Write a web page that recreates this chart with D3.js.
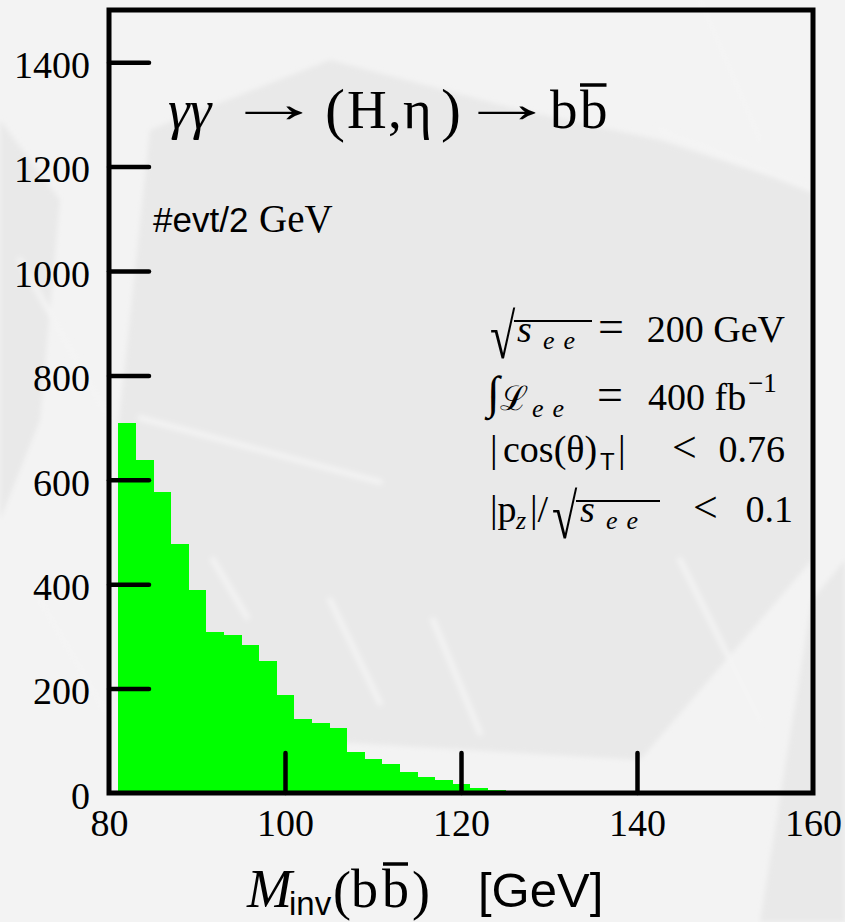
<!DOCTYPE html>
<html>
<head>
<meta charset="utf-8">
<script src="https://cdn.jsdelivr.net/npm/d3@7"></script>
<style>
  html, body { margin: 0; padding: 0; background: #f2f2f2; }
  svg { display: block; }
</style>
</head>
<body>
<script>
// b-bbar invariant mass spectrum, 2 GeV bins (lower bin edges in GeV)
const binLow = [81, 83, 85, 87, 89, 91, 93, 95, 97, 99, 101, 103, 105, 107, 109, 111, 113, 115, 117, 119, 121, 123];
const binWidth = 2;
const counts = [708, 638, 576, 477, 388, 308, 302, 283, 253, 187, 141, 135, 124, 79, 66, 56, 40, 30, 25, 17, 10, 5];

// axis ticks
const xTickLabels = [80, 100, 120, 140, 160];
const xInnerTicks = [100, 120, 140];
const yTickLabels = [0, 200, 400, 600, 800, 1000, 1200, 1400];
const yInnerTicks = [200, 400, 600, 800, 1000, 1200, 1400];

const W = 845, H = 922;
const serif = "'Liberation Serif','Times New Roman','DejaVu Serif',serif";
const sans = "'Liberation Sans',Arial,'DejaVu Sans',sans-serif";

const svg = d3.select("body").append("svg").attr("width", W).attr("height", H);

const x = d3.scaleLinear().domain([80, 160]).range([109, 813]);
const y = d3.scaleLinear().domain([0, 1500]).range([793, 10]);

// ---- faint watermark background ----
const defs = svg.append("defs");
defs.append("filter").attr("id", "soft").append("feGaussianBlur").attr("stdDeviation", 2.5);
const bg = svg.append("g");
bg.append("rect").attr("width", W).attr("height", H).attr("fill", "#f3f3f3");
const wm = bg.append("g").attr("filter", "url(#soft)");
const shade = [
  [[150,130],[330,60],[520,110],[660,140],[812,190],[812,560],[640,760],[300,740],[118,700],[118,430]],
  [[0,120],[60,200],[40,420],[0,520]],
  [[812,600],[845,560],[845,922],[760,922]]
];
wm.selectAll("polygon").data(shade).join("polygon")
  .attr("points", d => d.map(p => p.join(",")).join(" "))
  .attr("fill", "#e9e9e9");
const streaks = [
  [[140,418],[380,482]], [[213,560],[247,617]], [[330,600],[380,703]], [[433,620],[480,733]],
  [[660,130],[812,190]], [[700,0],[760,140]], [[20,260],[110,420]],
  [[40,600],[110,720]], [[680,560],[760,720]]
];
wm.selectAll("line").data(streaks).join("line")
  .attr("x1", d => d[0][0]).attr("y1", d => d[0][1])
  .attr("x2", d => d[1][0]).attr("y2", d => d[1][1])
  .attr("stroke", "#f4f4f4").attr("stroke-width", 5).attr("stroke-linecap", "round");

// ---- histogram bars ----
svg.append("g").selectAll("rect")
  .data(binLow.map((b, i) => ({ lo: b, hi: b + binWidth, n: counts[i] })))
  .join("rect")
  .attr("x", d => x(d.lo))
  .attr("width", d => x(d.hi) - x(d.lo) + 0.6)
  .attr("y", d => y(d.n))
  .attr("height", d => y(0) - y(d.n))
  .attr("fill", "#00ff00")
  .attr("shape-rendering", "crispEdges");

// ---- frame ----
svg.append("rect")
  .attr("x", x(80)).attr("y", y(1500))
  .attr("width", x(160) - x(80)).attr("height", y(0) - y(1500))
  .attr("fill", "none").attr("stroke", "#000").attr("stroke-width", 5);

// ---- inward ticks ----
function styleTicks(g) {
  g.select(".domain").remove();
  g.selectAll("line").attr("stroke", "#000").attr("stroke-width", 4.5).attr("stroke-linecap", "round");
}
svg.append("g").attr("transform", `translate(${x(80)},0)`)
  .call(d3.axisRight(y).tickValues(yInnerTicks).tickSize(40).tickFormat(""))
  .call(styleTicks);
svg.append("g").attr("transform", `translate(0,${y(0)})`)
  .call(d3.axisTop(x).tickValues(xInnerTicks).tickSize(40).tickFormat(""))
  .call(styleTicks);

// ---- tick labels ----
const yLab = svg.append("g").attr("transform", `translate(${x(80)},0)`)
  .call(d3.axisLeft(y).tickValues(yTickLabels).tickSize(0).tickPadding(19).tickFormat(d3.format("d")));
yLab.select(".domain").remove();
yLab.attr("font-family", serif).attr("font-size", 38);
yLab.selectAll("text").attr("fill", "#000").attr("dy", "0.4em");

const xLab = svg.append("g").attr("transform", `translate(0,${y(0)})`)
  .call(d3.axisBottom(x).tickValues(xTickLabels).tickSize(0).tickFormat(d3.format("d")));
xLab.select(".domain").remove();
xLab.attr("font-family", serif).attr("font-size", 38);
xLab.selectAll("text").attr("fill", "#000").attr("dy", null).attr("y", 43);

// ---- small typesetting helpers ----
const ann = svg.append("g").attr("fill", "#000");
function put(t, px, py, o = {}) {
  const e = ann.append("text").attr("x", px).attr("y", py)
    .attr("font-family", o.family || serif).attr("font-size", o.size || 38).text(t);
  if (o.it) e.attr("font-style", "italic");
  if (o.anchor) e.attr("text-anchor", o.anchor);
  if (o.ls) e.attr("letter-spacing", o.ls);
  if (o.sx) e.attr("x", 0).attr("y", 0).attr("transform", `translate(${px},${py}) scale(${o.sx},1)`);
  return e;
}
function bar(x1, x2, yy, sw) {
  ann.append("line").attr("x1", x1).attr("x2", x2).attr("y1", yy).attr("y2", yy)
    .attr("stroke", "#000").attr("stroke-width", sw);
}
function right(e) { const b = e.node().getBBox(); return b.x + b.width; }

// ---- process title ----
put("γγ", 168, 128, { size: 55, it: true });
put("→", 226, 122, { size: 55, sx: 1.75 });
put("(", 325, 130, { size: 60 });
put("H", 347, 128, { size: 55 });
put(",", 388, 128, { size: 55 });
put("η", 403, 128, { size: 55 });
put(")", 441, 130, { size: 60 });
put("→", 459, 122, { size: 55, sx: 1.75 });
put("b", 550, 128, { size: 55 });
const bb = put("b", 580, 128, { size: 55 });
bar(580, right(bb) - 1, 85, 3.5);

// ---- bin width label ----
put("#evt/2", 153, 232, { size: 35, family: sans });
put("GeV", 259, 232, { size: 39 });

// ---- running conditions and cuts ----
// line 1: sqrt(s_ee) = 200 GeV
put("√", 490, 358, { size: 64, sx: 0.72 });
put("s", 517, 342, { size: 38, it: true });
put("ee", 543, 349, { size: 26, it: true, ls: 9 });
bar(514, 592, 321, 2.2);
put("=", 598, 342, { size: 46 });
put("200 GeV", 785, 342, { size: 38, anchor: "end" });

// line 2: integrated luminosity
put("∫", 487, 408, { size: 46 });
put("ℒ", 500, 410, { size: 34, family: "'DejaVu Serif',serif" });
put("ee", 532, 417, { size: 26, it: true, ls: 9 });
put("=", 597, 410, { size: 46 });
put("400 fb", 648, 410, { size: 38 });
put("−1", 748, 392, { size: 27 });

// line 3: thrust angle cut
put("|", 490, 462, { size: 38 });
put("cos(θ)", 503, 462, { size: 38 });
put("T", 600, 470, { size: 24, family: sans });
put("|", 618, 462, { size: 38 });
put("<", 672, 462, { size: 44 });
put("0.76", 785, 462, { size: 38, anchor: "end" });

// line 4: longitudinal momentum cut
put("|p", 490, 522, { size: 38 });
put("z", 516, 529, { size: 26, it: true });
put("|/", 530, 522, { size: 38 });
put("√", 552, 538, { size: 64, sx: 0.72 });
put("s", 580, 522, { size: 38, it: true });
put("ee", 606, 529, { size: 26, it: true, ls: 9 });
bar(576, 660, 501, 2.2);
put("<", 693, 522, { size: 44 });
put("0.1", 793, 522, { size: 38, anchor: "end" });

// ---- x-axis title ----
put("M", 247, 907, { size: 54, it: true });
put("inv", 289, 915, { size: 33, family: sans });
put("(", 333, 909, { size: 54 });
put("b", 351, 907, { size: 54 });
const xb = put("b", 382, 907, { size: 54 });
bar(383, right(xb) - 1, 864, 3.5);
put(")", 412, 909, { size: 54 });
put("[GeV]", 478, 907, { size: 49, family: sans });
</script>
</body>
</html>
